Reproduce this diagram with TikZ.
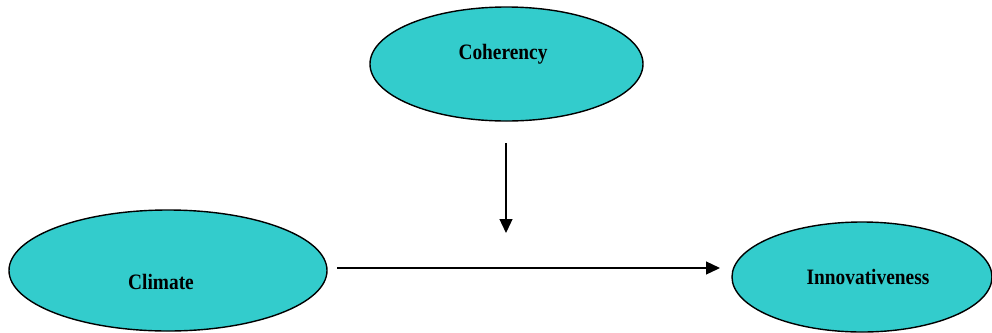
\documentclass[tikz,border=0pt]{standalone}
\usepackage{fontspec}
\usepackage{graphicx}
\setmainfont{Liberation Serif}
\usetikzlibrary{shapes.geometric,arrows.meta}
\definecolor{tealfill}{RGB}{51,204,204}
\tikzset{
  oval/.style={ellipse, draw=black, line width=1.4bp, fill=tealfill, inner sep=0pt},
  lbl/.style={font=\fontsize{22bp}{24bp}\selectfont\bfseries, inner sep=0pt, anchor=center},
  conn/.style={line width=1.3bp, -{Triangle[length=14bp,width=13bp]}}
}
\newcommand{\sq}[1]{\scalebox{0.88}[1]{#1}}
\begin{document}
\begin{tikzpicture}[x=1bp,y=-1bp]
\useasboundingbox (0,0) rectangle (992,332);
\node[oval, minimum width=273bp, minimum height=114bp] (coh) at (506.5,64) {};
\node[oval, minimum width=318bp, minimum height=121bp] (cli) at (168,270.5) {};
\node[oval, minimum width=260bp, minimum height=110bp] (inn) at (862,277) {};
\node[lbl] (cohT) at (503,54) {\sq{Coherency}};
\node[lbl] (cliT) at (161,282) {\sq{Climate}};
\node[lbl] (innT) at (868,277) {\sq{Innovativeness}};
\coordinate (vs) at (506,143);
\coordinate (ve) at (506,233);
\coordinate (hs) at (337,268);
\coordinate (he) at (720,268);
\draw[conn] (vs) -- (ve);
\draw[conn] (hs) -- (he);
\end{tikzpicture}
\end{document}
